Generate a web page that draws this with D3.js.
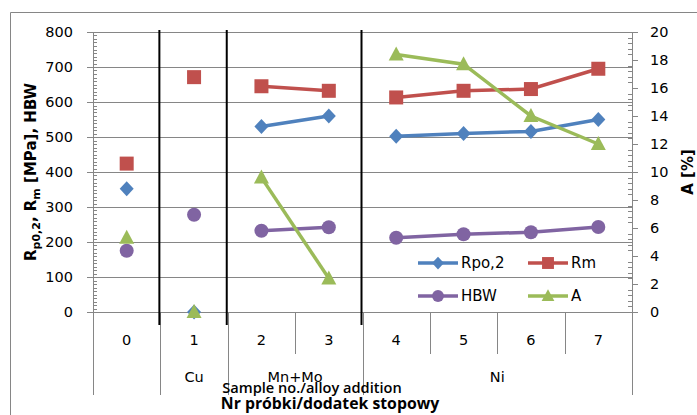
<!DOCTYPE html>
<html>
<head>
<meta charset="utf-8">
<script src="https://cdn.jsdelivr.net/npm/d3@7"></script>
<style>
  body { margin: 0; background: #fff; }
  text { font-family: "DejaVu Sans", sans-serif; fill: #000; }
</style>
</head>
<body>
<div id="chart"></div>
<script>
var samples = ["0", "1", "2", "3", "4", "5", "6", "7"];
var groups = [
    { name: "", first: 0, last: 0 },
    { name: "Cu", first: 1, last: 1 },
    { name: "Mn+Mo", first: 2, last: 3 },
    { name: "Ni", first: 4, last: 7 }
];
var rp02 = [352, 0, 530, 560, 502, 510, 516, 550];
var rm = [424, 671, 645, 632, 613, 632, 637, 695];
var hbw = [175, 278, 232, 242, 212, 222, 228, 243];
var elong = [5.3, 0, 9.6, 2.4, 18.4, 17.7, 14.0, 12.0];
var leftTicks = [0, 100, 200, 300, 400, 500, 600, 700, 800];
var rightTicks = [0, 2, 4, 6, 8, 10, 12, 14, 16, 18, 20];

var W = 697, H = 415;
var margin = { top: 32, right: 65, bottom: 103, left: 93 };

var x = d3.scaleBand().domain(samples).range([margin.left, W - margin.right]).padding(0);
var yL = d3.scaleLinear().domain([0, 800]).range([H - margin.bottom, margin.top]);
var yR = d3.scaleLinear().domain([0, 20]).range([H - margin.bottom, margin.top]);

var series = [
    { name: "Rpo,2", values: rp02, y: yL, color: "#4F81BD", shape: "diamond" },
    { name: "Rm", values: rm, y: yL, color: "#C0504D", shape: "square" },
    { name: "HBW", values: hbw, y: yL, color: "#8064A2", shape: "circle" },
    { name: "A", values: elong, y: yR, color: "#9BBB59", shape: "triangle" }
];

var svg = d3.select("#chart").append("svg")
    .attr("width", W)
    .attr("height", H);

var gridColor = "#868686";
var x0 = margin.left, x1 = W - margin.right, yb = H - margin.bottom;

// outer frame
svg.append("path")
    .attr("d", "M10.5," + (H + 5) + "V12.5H" + (W + 5))
    .attr("fill", "none")
    .attr("stroke", gridColor);

// horizontal gridlines
svg.append("g").selectAll("line")
    .data(leftTicks)
    .join("line")
    .attr("x1", x0).attr("x2", x1)
    .attr("y1", d => Math.round(yL(d)) + 0.5).attr("y2", d => Math.round(yL(d)) + 0.5)
    .attr("stroke", gridColor);

// left axis
var minorL = d3.range(0, 801, 10).filter(d => d % 100 !== 0);
var gl = svg.append("g");
gl.append("line").attr("x1", x0 + 0.5).attr("x2", x0 + 0.5)
    .attr("y1", margin.top).attr("y2", 395).attr("stroke", gridColor);
gl.selectAll("line.maj").data(leftTicks).join("line").attr("class", "maj")
    .attr("x1", x0 - 6).attr("x2", x0)
    .attr("y1", d => Math.round(yL(d)) + 0.5).attr("y2", d => Math.round(yL(d)) + 0.5)
    .attr("stroke", gridColor);
gl.selectAll("line.min").data(minorL).join("line").attr("class", "min")
    .attr("x1", x0).attr("x2", x0 + 4)
    .attr("y1", d => Math.round(yL(d)) + 0.5).attr("y2", d => Math.round(yL(d)) + 0.5)
    .attr("stroke", gridColor);
gl.selectAll("text").data(leftTicks).join("text")
    .attr("x", x0 - 20).attr("y", d => yL(d))
    .attr("dy", "0.36em")
    .attr("text-anchor", "end")
    .style("font-size", "14.5px")
    .text(d => d);

// right axis
var minorR = d3.range(0, 20.01, 0.4).filter(d => Math.abs(d / 2 - Math.round(d / 2)) > 0.01);
var gr = svg.append("g");
gr.append("line").attr("x1", x1 + 0.5).attr("x2", x1 + 0.5)
    .attr("y1", margin.top).attr("y2", 392).attr("stroke", gridColor);
gr.selectAll("line.maj").data(rightTicks).join("line").attr("class", "maj")
    .attr("x1", x1).attr("x2", x1 + 6)
    .attr("y1", d => Math.round(yR(d)) + 0.5).attr("y2", d => Math.round(yR(d)) + 0.5)
    .attr("stroke", gridColor);
gr.selectAll("line.min").data(minorR).join("line").attr("class", "min")
    .attr("x1", x1 - 4).attr("x2", x1)
    .attr("y1", d => Math.round(yR(d)) + 0.5).attr("y2", d => Math.round(yR(d)) + 0.5)
    .attr("stroke", gridColor);
gr.selectAll("text").data(rightTicks).join("text")
    .attr("x", x1 + 18).attr("y", d => yR(d))
    .attr("dy", "0.36em")
    .style("font-size", "14.5px")
    .text(d => d);

// category axis
var gx = svg.append("g");
gx.append("line").attr("x1", x0 - 6).attr("x2", x1 + 6)
    .attr("y1", yb + 0.5).attr("y2", yb + 0.5).attr("stroke", gridColor);
var bounds = d3.range(samples.length + 1);
var groupBounds = [0].concat(groups.map(g => g.last + 1));
gx.selectAll("line.sep").data(bounds).join("line").attr("class", "sep")
    .attr("x1", d => Math.round(x0 + d * x.bandwidth()) + 0.5)
    .attr("x2", d => Math.round(x0 + d * x.bandwidth()) + 0.5)
    .attr("y1", yb).attr("y2", d => groupBounds.includes(d) ? 395 : 354)
    .attr("stroke", gridColor);
gx.selectAll("text.cat").data(samples).join("text").attr("class", "cat")
    .attr("x", d => x(d) + x.bandwidth() / 2).attr("y", 340)
    .attr("dy", "0.36em").attr("text-anchor", "middle")
    .style("font-size", "14.5px")
    .text(d => d);
gx.selectAll("text.grp").data(groups).join("text").attr("class", "grp")
    .attr("x", d => x0 + (d.first + d.last + 1) / 2 * x.bandwidth()).attr("y", 377)
    .attr("dy", "0.36em").attr("text-anchor", "middle")
    .style("font-size", "14.5px")
    .text(d => d.name);

// group dividers in the plot
svg.append("g").selectAll("line")
    .data(groups.slice(0, -1))
    .join("line")
    .attr("x1", d => x0 + (d.last + 1) * x.bandwidth() - 1)
    .attr("x2", d => x0 + (d.last + 1) * x.bandwidth() - 1)
    .attr("y1", 30).attr("y2", 325)
    .attr("stroke", "#000").attr("stroke-width", 2);

// markers
function marker(sel, shape, color) {
    if (shape === "circle") {
        sel.append("circle").attr("r", 7).attr("fill", color);
    } else if (shape === "square") {
        sel.append("rect").attr("x", -7).attr("y", -7).attr("width", 14).attr("height", 14).attr("fill", color);
    } else if (shape === "diamond") {
        sel.append("path").attr("d", "M0,-7.5L7,0L0,7.5L-7,0Z").attr("fill", color);
    } else {
        sel.append("path").attr("d", "M0,-8L7.5,6L-7.5,6Z").attr("fill", color);
    }
}

var line = d3.line().x(d => x(d.s) + x.bandwidth() / 2).y(d => d.yv);

series.forEach(s => {
    var g = svg.append("g");
    groups.forEach(gr => {
        if (gr.last > gr.first) {
            var pts = d3.range(gr.first, gr.last + 1).map(i => ({ s: samples[i], yv: s.y(s.values[i]) }));
            g.append("path").attr("d", line(pts))
                .attr("fill", "none").attr("stroke", s.color).attr("stroke-width", 3.5);
        }
    });
    s.values.forEach((v, i) => {
        var m = g.append("g").attr("transform", "translate(" + (x(samples[i]) + x.bandwidth() / 2) + "," + s.y(v) + ")");
        marker(m, s.shape, s.color);
    });
});

// legend
var legendPos = [[418, 263], [528, 263], [418, 296], [528, 296]];
series.forEach((s, i) => {
    var lg = svg.append("g").attr("transform", "translate(" + legendPos[i][0] + "," + legendPos[i][1] + ")");
    lg.append("line").attr("x1", 0).attr("x2", 40).attr("stroke", s.color).attr("stroke-width", 3.5);
    var m = lg.append("g").attr("transform", "translate(20,0) scale(0.85)");
    marker(m, s.shape, s.color);
    lg.append("text").attr("x", 43).attr("dy", "0.36em")
        .style("font-size", "15px").text(s.name);
});

// axis titles
var lt = svg.append("text")
    .attr("transform", "translate(36,172) rotate(-90)")
    .attr("text-anchor", "middle")
    .style("font-size", "15px").style("font-weight", "bold");
lt.append("tspan").text("R");
lt.append("tspan").attr("dy", 4).style("font-size", "11px").text("p0,2");
lt.append("tspan").attr("dy", -4).text(", R");
lt.append("tspan").attr("dy", 4).style("font-size", "11px").text("m");
lt.append("tspan").attr("dy", -4).text(" [MPa], HBW");

svg.append("text")
    .attr("transform", "translate(688,172) rotate(-90)")
    .attr("text-anchor", "middle").attr("dy", "0.36em")
    .style("font-size", "15px").style("font-weight", "bold")
    .text("A [%]");

svg.append("text")
    .attr("x", 312).attr("y", 393)
    .attr("text-anchor", "middle")
    .style("font-size", "14.6px").style("font-weight", "600")
    .style("font-family", "'Open Sans', sans-serif")
    .text("Sample no./alloy addition");
svg.append("text")
    .attr("x", 330).attr("y", 408.5)
    .attr("text-anchor", "middle")
    .style("font-size", "15.8px").style("font-weight", "bold")
    .style("font-family", "'Open Sans', sans-serif")
    .text("Nr próbki/dodatek stopowy");
</script>
</body>
</html>
